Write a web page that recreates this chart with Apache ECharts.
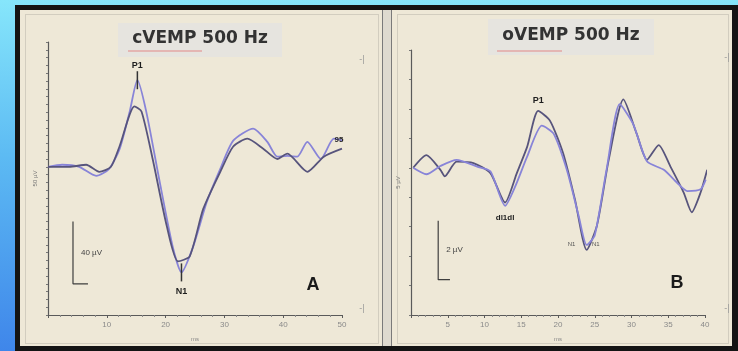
<!DOCTYPE html>
<html>
<head>
<meta charset="utf-8">
<title>cVEMP / oVEMP 500 Hz</title>
<script src="https://cdn.jsdelivr.net/npm/echarts@6/dist/echarts.min.js"></script>
<style>
  html, body { margin: 0; padding: 0; }
  body {
    width: 738px; height: 351px; overflow: hidden; position: relative;
    background: linear-gradient(180deg, #86e6fb 0%, #5cbaf3 45%, #3f86ea 100%);
  }
  .frame { position: absolute; left: 15px; top: 5px; width: 723px; height: 346px; background: #141414; }
  .panel { position: absolute; top: 10px; height: 336px; background: #eee8d7; }
  .panel::before {
    content: ''; position: absolute; left: 5px; top: 4px; right: 3px; bottom: 2px;
    border: 1px solid #d2cdbf;
  }
  #panelA { left: 20px; width: 362px; }
  #panelB { left: 392px; width: 340px; }
  #divider {
    position: absolute; left: 382px; top: 10px; width: 8px; height: 336px;
    background: #dedacf; border-left: 1px solid #7a7a7a; border-right: 1px solid #7a7a7a;
  }
  #chart { position: absolute; left: 0; top: 0; width: 738px; height: 351px; }
</style>
</head>
<body>
<div class="frame"></div>
<div class="panel" id="panelA"></div>
<div id="divider"></div>
<div class="panel" id="panelB"></div>
<div id="chart"></div>
<script>
// cVEMP traces (ms, µV)
const waveA1 = [[0,0],[2.4,1.3],[5.3,0],[8.2,-5.8],[10.4,-1.3],[12.2,11.6],[13.9,35.5],[15.2,55.5],[16.7,35.5],[19.0,-9.7],[21.2,-51],[22.7,-67.7],[24.7,-51],[27.0,-22.6],[29.3,-1.3],[31.5,16.8],[34.9,24.5],[37.3,16],[39,6.5],[40.7,7],[42.4,6.5],[44.1,16],[46.4,5],[48.6,18],[50,17]];
const waveA2 = [[0,0],[3.6,0],[6.5,1.3],[8.7,-3.2],[10.7,0],[12.2,13.5],[14.7,38.7],[15.9,35.5],[17.8,5],[20.2,-38],[22.1,-60.6],[24.1,-57.4],[26.4,-27],[29.3,-3.2],[31.5,13],[33.9,18],[36.6,11.6],[39,5],[40.7,8.4],[44.1,-3.2],[46.9,6.5],[50,11.6]];

// oVEMP traces (ms, µV)
const waveB1 = [[0.3,0],[2.1,0.43],[4,-0.07],[4.6,-0.29],[6.2,0.21],[8.5,0.16],[10.8,-0.18],[12.8,-1.18],[14.4,-0.18],[15.8,0.71],[17.3,1.93],[18.9,1.6],[20.7,0.49],[22.3,-1.07],[23.9,-2.79],[25.3,-1.96],[26.9,0.27],[28.9,2.32],[30.7,1.16],[32.1,0.27],[33.7,0.77],[35.3,0.04],[37.1,-0.84],[38.2,-1.51],[39.4,-0.84],[40.3,-0.07]];
const waveB2 = [[0.3,0],[2.1,-0.22],[4,0.06],[6.2,0.27],[9,0.04],[10.8,-0.12],[12.8,-1.29],[14.2,-0.62],[15.8,0.38],[17.8,1.43],[19.4,1.16],[21.2,-0.07],[22.8,-1.62],[23.9,-2.62],[25,-2.29],[26.6,-0.07],[28.4,2.16],[30.2,1.5],[32.1,0.22],[34.4,-0.07],[36.2,-0.51],[37.6,-0.79],[39.4,-0.73],[40.1,-0.4]];

// calibration bars
const scaleBarA = [[4.25,-35],[4.25,-75],[6.8,-75]];
const scaleBarB = [[3.7,-1.8],[3.7,-3.8],[5.3,-3.8]];

const titles = ['cVEMP 500 Hz', 'oVEMP 500 Hz'];
const panelLetters = ['A', 'B'];
const yNames = ['50 µV', '5 µV'];
const scaleTexts = ['40 µV', '2 µV'];

const FONT = '"Liberation Sans", Arial, sans-serif';
const TITLE_FONT = '"DejaVu Sans", Verdana, sans-serif';
const axisColor = '#5a5a5a';
const darkTrace = '#57547c';
const lightTrace = '#8884d8';

const chart = echarts.init(document.getElementById('chart'));

function xAxisFor(gridIndex, max, step) {
  return {
    type: 'value', gridIndex, min: 0, max, interval: step,
    name: 'ms', nameLocation: 'middle', nameGap: 21,
    nameTextStyle: { fontSize: 6, color: '#888', fontFamily: FONT },
    axisLine: { onZero: false, lineStyle: { color: axisColor, width: 1.2 } },
    axisTick: { show: true, length: 3, lineStyle: { color: axisColor } },
    minorTick: { show: true, splitNumber: 5, length: 2, lineStyle: { color: '#8a8a8a' } },
    axisLabel: { fontSize: 8, color: '#8a8a8a', margin: 6, fontFamily: FONT,
      formatter: v => (v === 0 ? '' : v) },
    splitLine: { show: false }
  };
}

function yAxisFor(gridIndex, min, max, step, name) {
  return {
    type: 'value', gridIndex, min, max, interval: step,
    name, nameLocation: 'middle', nameGap: 10, nameRotate: 90,
    nameTextStyle: { fontSize: 6, color: '#777', fontFamily: FONT },
    axisLine: { onZero: false, lineStyle: { color: axisColor, width: 1.2 } },
    axisTick: { show: true, length: 2, lineStyle: { color: '#777' } },
    axisLabel: { show: false },
    splitLine: { show: false }
  };
}

function trace(name, data, color, xi, extra) {
  return Object.assign({
    name, type: 'line', xAxisIndex: xi, yAxisIndex: xi, data,
    showSymbol: false, smooth: 0.22,
    lineStyle: { color, width: 1.8 }, itemStyle: { color },
    z: 3
  }, extra || {});
}

const peakLabel = { show: true, color: '#1e1e1e', fontSize: 9, fontWeight: 'bold', fontFamily: FONT };

function scaleBar(data, xi, text) {
  const mid = (data[0][1] + data[1][1]) / 2;
  return {
    name: 'scale', type: 'line', xAxisIndex: xi, yAxisIndex: xi, data,
    showSymbol: false, lineStyle: { color: '#3e3e3e', width: 1.2 }, silent: true,
    markPoint: {
      symbol: 'circle', symbolSize: 0, silent: true,
      data: [{ coord: [data[0][0], mid],
        label: Object.assign({}, peakLabel, { formatter: text, position: 'right', distance: 8,
          fontWeight: 'normal', fontSize: 8, color: '#444' }) }]
    }
  };
}

const graphic = [];
const titleBoxes = [[118, 23, 164, 34], [488, 19, 166, 36]];
const squiggles = [[128, 51, 202], [497, 51, 562]];
titles.forEach((t, i) => {
  const b = titleBoxes[i];
  graphic.push({ type: 'rect', shape: { x: b[0], y: b[1], width: b[2], height: b[3] },
    style: { fill: '#e6e4df' }, z: 1 });
  graphic.push({ type: 'text', x: b[0] + b[2] / 2, y: b[1] + b[3] / 2 - 1,
    style: { text: t, fill: '#333', font: 'bold 17px ' + TITLE_FONT,
      align: 'center', verticalAlign: 'middle', textAlign: 'center', textVerticalAlign: 'middle' }, z: 2 });
  const s = squiggles[i];
  graphic.push({ type: 'line', shape: { x1: s[0], y1: s[1], x2: s[2], y2: s[1] },
    style: { stroke: '#e07070', lineWidth: 1.2, opacity: 0.8 }, z: 2 });
});
[[313, 285], [677, 283]].forEach((p, i) => {
  graphic.push({ type: 'text', x: p[0], y: p[1],
    style: { text: panelLetters[i], fill: '#1a1a1a', font: 'bold 18px ' + FONT,
      align: 'center', verticalAlign: 'middle', textAlign: 'center', textVerticalAlign: 'middle' } });
});
[[362, 60], [362, 309], [727, 58], [727, 309]].forEach(p => {
  graphic.push({ type: 'text', x: p[0], y: p[1],
    style: { text: '-|', fill: '#999', font: '9px ' + FONT,
      align: 'center', verticalAlign: 'middle', textAlign: 'center', textVerticalAlign: 'middle' } });
});

const option = {
  backgroundColor: 'transparent',
  animation: false,
  grid: [
    { left: 48, top: 42, width: 294, height: 273 },
    { left: 411, top: 50, width: 294, height: 265 }
  ],
  xAxis: [xAxisFor(0, 50, 10), xAxisFor(1, 40, 5)],
  yAxis: [yAxisFor(0, -95, 80, 5, yNames[0]), yAxisFor(1, -5, 4, 1, yNames[1])],
  graphic,
  series: [
    trace('cVEMP 1', waveA1, lightTrace, 0, {
      markPoint: {
        silent: true, symbol: 'rect', itemStyle: { color: '#333' },
        data: [
          { coord: waveA1[7], symbolSize: [1.5, 18],
            label: Object.assign({}, peakLabel, { formatter: 'P1', position: 'top', distance: 1 }) },
          { coord: waveA1[11], symbolSize: [1.5, 18],
            label: Object.assign({}, peakLabel, { formatter: 'N1', position: 'bottom', distance: 6 }) },
          { coord: waveA1[waveA1.length - 1], symbolSize: 0,
            label: Object.assign({}, peakLabel, { formatter: '95', position: 'inside', offset: [-3, 0], fontSize: 8 }) }
        ]
      }
    }),
    trace('cVEMP 2', waveA2, darkTrace, 0),
    trace('oVEMP 1', waveB1, darkTrace, 1, {
      markPoint: {
        silent: true, symbol: 'rect', itemStyle: { color: '#333' },
        data: [
          { coord: waveB1[10], symbolSize: 0,
            label: Object.assign({}, peakLabel, { formatter: 'P1', position: 'top', distance: 6 }) },
          { coord: waveB1[14], symbolSize: 0,
            label: Object.assign({}, peakLabel, { formatter: 'N1          N1', position: 'top', distance: 3,
              fontSize: 6, fontWeight: 'normal', color: '#555', offset: [-3, 0] }) },
          { coord: waveB1[waveB1.length - 1], symbolSize: 0,
            label: Object.assign({}, peakLabel, { formatter: '95', position: 'inside', offset: [-2, 1], fontSize: 8 }) }
        ]
      }
    }),
    trace('oVEMP 2', waveB2, lightTrace, 1, {
      markPoint: {
        silent: true, symbol: 'rect', itemStyle: { color: '#333' },
        data: [
          { coord: waveB2[6], symbolSize: 0,
            label: Object.assign({}, peakLabel, { formatter: 'dl1dl', position: 'bottom', distance: 8, fontSize: 8 }) }
        ]
      }
    }),
    scaleBar(scaleBarA, 0, scaleTexts[0]),
    scaleBar(scaleBarB, 1, scaleTexts[1])
  ]
};

chart.setOption(option);
window.addEventListener('resize', () => chart.resize());
</script>
</body>
</html>
